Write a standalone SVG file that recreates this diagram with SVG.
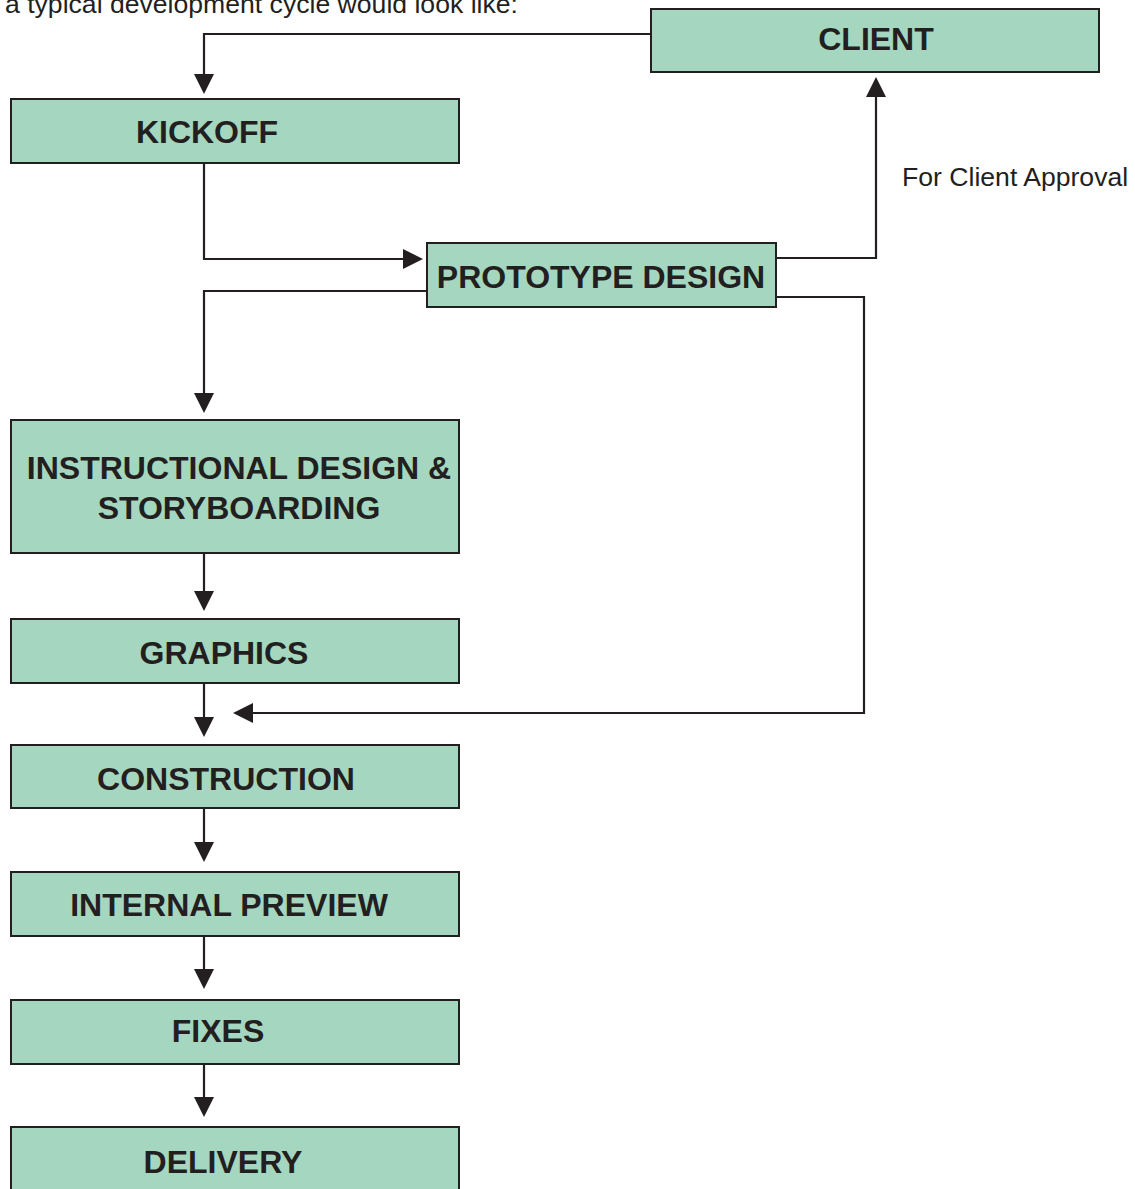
<svg xmlns="http://www.w3.org/2000/svg" width="1135" height="1189" viewBox="0 0 1135 1189">
  <defs>
    <marker id="arrow" markerUnits="userSpaceOnUse" markerWidth="20" markerHeight="20" refX="0" refY="10" orient="auto">
      <path d="M0,0 L20,10 L0,20 z" fill="#231f20"/>
    </marker>
    <style>
      .box { fill: #a5d6bf; stroke: #231f20; stroke-width: 2; }
      .label { font-family: "Liberation Sans", Arial, sans-serif; font-weight: bold; font-size: 32px; fill: #231f20; text-anchor: middle; }
      .note { font-family: "Liberation Sans", Arial, sans-serif; font-size: 26.6px; fill: #231f20; }
      .link { fill: none; stroke: #231f20; stroke-width: 2.2; marker-end: url(#arrow); }
    </style>
  </defs>
  <rect width="1135" height="1189" fill="#ffffff"/>

  <text class="note" x="5" y="13">a typical development cycle would look like:</text>
  <text class="note" x="902" y="186">For Client Approval</text>

  <g id="connectors">
    <path class="link" d="M651,34 H204 V74"/>
    <path class="link" d="M204,163 V259 H403"/>
    <path class="link" d="M777,258 H876 V97"/>
    <path class="link" d="M427,291 H204 V393"/>
    <path class="link" d="M777,297 H864 V713 H253"/>
    <path class="link" d="M204,553 V591"/>
    <path class="link" d="M204,683 V717"/>
    <path class="link" d="M204,808 V842"/>
    <path class="link" d="M204,936 V969"/>
    <path class="link" d="M204,1064 V1097"/>
  </g>

  <g id="client">
    <rect class="box" x="651" y="9" width="448" height="63"/>
    <text class="label" x="876" y="50">CLIENT</text>
  </g>
  <g id="kickoff">
    <rect class="box" x="11" y="99" width="448" height="64"/>
    <text class="label" x="207" y="143">KICKOFF</text>
  </g>
  <g id="prototype-design">
    <rect class="box" x="427" y="243" width="349" height="64"/>
    <text class="label" x="601" y="288">PROTOTYPE DESIGN</text>
  </g>
  <g id="instructional-design">
    <rect class="box" x="11" y="420" width="448" height="133"/>
    <text class="label" x="239" y="479">INSTRUCTIONAL DESIGN &amp;</text>
    <text class="label" x="239" y="519">STORYBOARDING</text>
  </g>
  <g id="graphics">
    <rect class="box" x="11" y="619" width="448" height="64"/>
    <text class="label" x="224" y="664">GRAPHICS</text>
  </g>
  <g id="construction">
    <rect class="box" x="11" y="745" width="448" height="63"/>
    <text class="label" x="226" y="790">CONSTRUCTION</text>
  </g>
  <g id="internal-preview">
    <rect class="box" x="11" y="872" width="448" height="64"/>
    <text class="label" x="229" y="916">INTERNAL PREVIEW</text>
  </g>
  <g id="fixes">
    <rect class="box" x="11" y="1000" width="448" height="64"/>
    <text class="label" x="218" y="1042">FIXES</text>
  </g>
  <g id="delivery">
    <rect class="box" x="11" y="1127" width="448" height="66"/>
    <text class="label" x="223" y="1173">DELIVERY</text>
  </g>
</svg>
